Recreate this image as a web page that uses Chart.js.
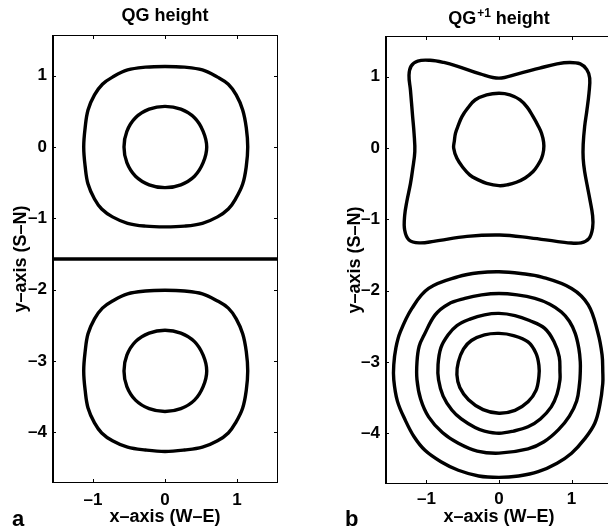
<!DOCTYPE html>
<html><head><meta charset="utf-8">
<script src="https://cdn.jsdelivr.net/npm/chart.js@4.4.1/dist/chart.umd.min.js"></script>
<style>
html,body{margin:0;padding:0;background:#fff;overflow:hidden;}
#wrap{position:relative;width:608px;height:531px;overflow:hidden;background:#fff;}
canvas{position:absolute;top:0;}
#ca{left:0;}
#cb{left:300px;}
.pl{position:absolute;font:bold 22px "Liberation Sans",Arial,Helvetica,sans-serif;line-height:22px;color:#000;}
</style></head><body>
<div id="wrap">
<canvas id="ca" width="300" height="531"></canvas>
<canvas id="cb" width="330" height="531"></canvas>
<div class="pl" style="left:12px;top:508px">a</div>
<div class="pl" style="left:345px;top:508px">b</div>
</div>
<script>
// ---------- axes ----------
const xRange = [-1.5708, 1.5708];
const yRange = [-4.7124, 1.5708];
const xTickValues = [-1, 0, 1];
const xTickLabels = ['\u20131', '0', '1'];
const yTickValues = [-4, -3, -2, -1, 0, 1];
const yTickLabels = ['\u20134', '\u20133', '\u20132', '\u20131', '0', '1'];
const xAxisTitle = 'x\u2013axis (W\u2013E)';
const yAxisTitle = 'y\u2013axis (S\u2013N)';
const titleBase = ['QG', 'QG'];
const titleSup = ['', '+1'];
const titleRest = [' height', ' height'];

// ---------- panel a : QG height (contour points) ----------
const aTopOuter = [[0,1.13],[0.27,1.12],[0.52,1.08],[0.73,0.98],[0.88,0.88],[0.99,0.73],[1.08,0.52],[1.13,0.27],[1.15,0],[1.13,-0.27],[1.08,-0.52],[0.98,-0.73],[0.88,-0.87],[0.73,-0.98],[0.52,-1.07],[0.27,-1.11],[0,-1.12],[-0.27,-1.11],[-0.52,-1.07],[-0.73,-0.98],[-0.88,-0.87],[-0.98,-0.73],[-1.07,-0.52],[-1.11,-0.27],[-1.13,0],[-1.11,0.27],[-1.07,0.52],[-0.98,0.73],[-0.87,0.88],[-0.73,0.98],[-0.52,1.08],[-0.27,1.12]];
const aTopInner = [[0,0.57],[0.22,0.53],[0.41,0.41],[0.53,0.22],[0.58,0],[0.53,-0.22],[0.41,-0.41],[0.22,-0.53],[0,-0.57],[-0.22,-0.53],[-0.41,-0.41],[-0.53,-0.22],[-0.57,0],[-0.53,0.22],[-0.41,0.41],[-0.22,0.53]];
const aBotOuter = [[0,-2.01],[0.27,-2.02],[0.52,-2.06],[0.73,-2.16],[0.88,-2.26],[0.99,-2.41],[1.08,-2.62],[1.13,-2.87],[1.15,-3.14],[1.13,-3.41],[1.08,-3.66],[0.98,-3.87],[0.88,-4.01],[0.73,-4.12],[0.52,-4.21],[0.27,-4.25],[0,-4.27],[-0.27,-4.25],[-0.52,-4.21],[-0.73,-4.12],[-0.88,-4.01],[-0.98,-3.87],[-1.07,-3.66],[-1.11,-3.41],[-1.13,-3.14],[-1.11,-2.87],[-1.07,-2.62],[-0.98,-2.41],[-0.87,-2.26],[-0.73,-2.16],[-0.52,-2.06],[-0.27,-2.02]];
const aBotInner = [[0,-2.57],[0.22,-2.61],[0.41,-2.73],[0.53,-2.92],[0.58,-3.14],[0.53,-3.36],[0.41,-3.55],[0.22,-3.67],[0,-3.71],[-0.22,-3.67],[-0.41,-3.55],[-0.53,-3.36],[-0.57,-3.14],[-0.53,-2.92],[-0.41,-2.73],[-0.22,-2.61]];
const aZeroLine = [[-1.5708,-1.5708],[1.5708,-1.5708]];

// ---------- panel b : QG+1 height ----------
const bTopOuter = [[0,0.98],[0.26,1.04],[0.56,1.12],[0.80,1.18],[0.97,1.20],[1.12,1.18],[1.21,1.10],[1.25,0.98],[1.24,0.77],[1.21,0.52],[1.18,0.30],[1.16,0.05],[1.16,-0.15],[1.18,-0.33],[1.22,-0.55],[1.25,-0.71],[1.29,-0.95],[1.29,-1.12],[1.24,-1.27],[1.13,-1.33],[0.95,-1.33],[0.79,-1.31],[0.43,-1.26],[0.01,-1.22],[-0.44,-1.24],[-0.90,-1.31],[-1.10,-1.33],[-1.24,-1.29],[-1.30,-1.15],[-1.30,-0.95],[-1.27,-0.75],[-1.22,-0.50],[-1.19,-0.30],[-1.16,-0.05],[-1.17,0.20],[-1.19,0.44],[-1.22,0.81],[-1.24,1.02],[-1.21,1.15],[-1.12,1.22],[-0.95,1.23],[-0.76,1.20],[-0.58,1.15],[-0.26,1.04]];
const bTopInner = [[0,0.767],[0.15,0.745],[0.29,0.675],[0.39,0.57],[0.47,0.44],[0.54,0.31],[0.586,0.206],[0.615,0.08],[0.615,-0.03],[0.586,-0.145],[0.535,-0.24],[0.47,-0.33],[0.36,-0.42],[0.24,-0.48],[0.12,-0.515],[0,-0.528],[-0.17,-0.495],[-0.30,-0.44],[-0.40,-0.38],[-0.50,-0.27],[-0.58,-0.145],[-0.625,0],[-0.615,0.10],[-0.60,0.206],[-0.56,0.32],[-0.51,0.44],[-0.43,0.56],[-0.33,0.673],[-0.17,0.745]];
const bRing1 = [[0,-1.735],[0.30,-1.76],[0.59,-1.81],[1.0,-1.97],[1.23,-2.20],[1.36,-2.58],[1.42,-2.90],[1.43,-3.14],[1.43,-3.30],[1.39,-3.60],[1.32,-3.86],[1.18,-4.08],[1.0,-4.28],[0.80,-4.42],[0.54,-4.54],[0.27,-4.60],[0,-4.62],[-0.28,-4.60],[-0.56,-4.52],[-0.80,-4.40],[-1.02,-4.24],[-1.17,-4.05],[-1.29,-3.82],[-1.40,-3.55],[-1.45,-3.25],[-1.45,-3.04],[-1.42,-2.80],[-1.36,-2.58],[-1.20,-2.25],[-0.97,-1.97],[-0.56,-1.805],[-0.28,-1.75]];
const bRing2 = [[0,-2.04],[0.25,-2.06],[0.495,-2.11],[0.70,-2.19],[0.86,-2.30],[0.97,-2.43],[1.05,-2.60],[1.10,-2.81],[1.12,-3.00],[1.12,-3.14],[1.11,-3.30],[1.07,-3.55],[0.97,-3.76],[0.82,-3.95],[0.62,-4.12],[0.40,-4.22],[0,-4.28],[-0.30,-4.25],[-0.56,-4.14],[-0.78,-3.99],[-0.97,-3.77],[-1.08,-3.52],[-1.13,-3.25],[-1.13,-3.00],[-1.10,-2.78],[-1.03,-2.62],[-0.88,-2.34],[-0.70,-2.19],[-0.47,-2.11],[-0.24,-2.06]];
const bRing3 = [[0,-2.32],[0.22,-2.35],[0.42,-2.42],[0.63,-2.53],[0.76,-2.72],[0.83,-2.93],[0.84,-3.14],[0.84,-3.25],[0.80,-3.45],[0.72,-3.63],[0.57,-3.80],[0.40,-3.91],[0.20,-3.97],[0,-4.00],[-0.20,-3.97],[-0.33,-3.92],[-0.52,-3.80],[-0.65,-3.675],[-0.77,-3.48],[-0.833,-3.25],[-0.84,-3.04],[-0.80,-2.80],[-0.70,-2.62],[-0.58,-2.49],[-0.40,-2.40],[-0.20,-2.34]];
const bRing4 = [[0,-2.60],[0.20,-2.63],[0.40,-2.72],[0.51,-2.88],[0.55,-3.05],[0.55,-3.20],[0.51,-3.40],[0.40,-3.56],[0.22,-3.68],[0,-3.72],[-0.22,-3.67],[-0.42,-3.53],[-0.54,-3.36],[-0.58,-3.18],[-0.56,-3.00],[-0.49,-2.82],[-0.38,-2.70],[-0.20,-2.62]];

const FONT = '"Liberation Sans", Arial, Helvetica, sans-serif';

function closedDs(pts) {
  const n = pts.length;
  const seq = [pts[n - 1]].concat(pts, [pts[0], pts[1]]);
  return { data: seq.map(p => ({x: p[0], y: p[1]})), closed: true };
}
function openDs(pts) {
  return { data: pts.map(p => ({x: p[0], y: p[1]})), closed: false };
}

const framePlugin = {
  id: 'frame',
  afterDatasetsDraw(chart) {
    const {ctx, chartArea: a, scales} = chart;
    const x = scales.x, y = scales.y;
    ctx.save();
    ctx.lineWidth = 1;
    ctx.strokeStyle = '#000';
    ctx.strokeRect(a.left + 0.5, a.top + 0.5, a.right - a.left - 1, a.bottom - a.top - 1);
    ctx.lineWidth = 2;
    ctx.beginPath(); ctx.moveTo(a.left + 1, a.top); ctx.lineTo(a.left + 1, a.bottom); ctx.stroke();
    ctx.lineWidth = 1;
    const tl = 4;
    ctx.beginPath();
    x.ticks.forEach(t => {
      const px = Math.round(x.getPixelForValue(t.value)) + 0.5;
      ctx.moveTo(px, a.bottom); ctx.lineTo(px, a.bottom - tl);
      ctx.moveTo(px, a.top); ctx.lineTo(px, a.top + tl);
    });
    y.ticks.forEach(t => {
      const py = Math.round(y.getPixelForValue(t.value)) + 0.5;
      ctx.moveTo(a.left, py); ctx.lineTo(a.left + tl, py);
      ctx.moveTo(a.right, py); ctx.lineTo(a.right - tl, py);
    });
    ctx.stroke();
    ctx.restore();
  }
};

const supTitlePlugin = {
  id: 'supTitle',
  afterDraw(chart, args, o) {
    const {ctx, chartArea: a} = chart;
    ctx.save();
    const big = 'bold ' + o.size + 'px ' + FONT;
    const small = 'bold ' + o.supSize + 'px ' + FONT;
    ctx.font = big;
    const w1 = ctx.measureText(o.base).width;
    const w3 = ctx.measureText(o.rest).width;
    ctx.font = small;
    const w2 = o.sup ? ctx.measureText(o.sup).width + 1 : 0;
    const x0 = (a.left + a.right) / 2 - (w1 + w2 + w3) / 2;
    ctx.fillStyle = '#000';
    ctx.textAlign = 'left';
    ctx.textBaseline = 'alphabetic';
    ctx.font = big; ctx.fillText(o.base, x0, o.baseline);
    if (o.sup) { ctx.font = small; ctx.fillText(o.sup, x0 + w1 + 1, o.baseline - o.supRaise); }
    ctx.font = big; ctx.fillText(o.rest, x0 + w1 + w2, o.baseline);
    ctx.restore();
  }
};

function makeChart(id, contours, lay, idx) {
  const datasets = contours.map(c => Object.assign(c, {
    showLine: true,
    borderColor: '#000',
    borderWidth: 3.4,
    pointRadius: 0,
    pointHoverRadius: 0,
    tension: c.closed ? 0.38 : 0,
    borderCapStyle: c.closed ? 'round' : 'butt',
    borderJoinStyle: 'round',
    fill: false,
    segment: {
      borderColor: ctx => {
        const d = ctx.chart.data.datasets[ctx.datasetIndex];
        if (!d.closed) return undefined;
        const n = d.data.length;
        return (ctx.p0DataIndex === 0 || ctx.p1DataIndex === n - 1) ? 'rgba(0,0,0,0)' : undefined;
      }
    }
  }));
  const tickFont = {family: FONT, size: 17, weight: 'bold'};
  const titleFont = {family: FONT, size: 18, weight: 'bold'};
  return new Chart(document.getElementById(id), {
    type: 'scatter',
    data: {datasets},
    plugins: [framePlugin, supTitlePlugin],
    options: {
      responsive: false,
      animation: false,
      events: [],
      layout: {padding: {left: 0, right: lay.padRight, top: lay.top, bottom: 0}},
      plugins: {
        legend: {display: false},
        tooltip: {enabled: false},
        title: {display: false},
        supTitle: {base: titleBase[idx], sup: titleSup[idx], rest: titleRest[idx], size: 18, supSize: 12, supRaise: 7, baseline: lay.titleBase}
      },
      scales: {
        x: {
          type: 'linear', min: xRange[0], max: xRange[1],
          afterBuildTicks: s => { s.ticks = xTickValues.map(v => ({value: v})); },
          afterFit: s => { s.height = lay.xHeight; },
          grid: {display: false, drawTicks: false},
          border: {display: false},
          ticks: {callback: (v, i) => xTickLabels[i], font: tickFont, color: '#000', padding: lay.xTickPad, maxRotation: 0, autoSkip: false},
          title: {display: true, text: xAxisTitle, font: titleFont, color: '#000', padding: {top: 0, bottom: lay.xTitlePad}}
        },
        y: {
          type: 'linear', min: yRange[0], max: yRange[1],
          afterBuildTicks: s => { s.ticks = yTickValues.map(v => ({value: v})); },
          afterFit: s => { s.width = lay.yWidth; },
          grid: {display: false, drawTicks: false},
          border: {display: false},
          ticks: {callback: (v, i) => yTickLabels[i], font: tickFont, color: '#000', padding: 5, autoSkip: false},
          title: {display: true, text: yAxisTitle, font: titleFont, color: '#000', padding: {top: lay.yTitlePad, bottom: 0}}
        }
      }
    }
  });
}

makeChart('ca',
  [closedDs(aTopOuter), closedDs(aTopInner), closedDs(aBotOuter), closedDs(aBotInner), openDs(aZeroLine)],
  {padRight: 22, top: 35, xHeight: 48, yWidth: 52, xTickPad: 7, xTitlePad: 3, yTitlePad: 10, titleBase: 21},
  0);
makeChart('cb',
  [closedDs(bTopOuter), closedDs(bTopInner), closedDs(bRing1), closedDs(bRing2), closedDs(bRing3), closedDs(bRing4)],
  {padRight: 17, top: 36, xHeight: 47, yWidth: 85, xTickPad: 5, xTitlePad: 3, yTitlePad: 44, titleBase: 24},
  1);
</script>
</body></html>
